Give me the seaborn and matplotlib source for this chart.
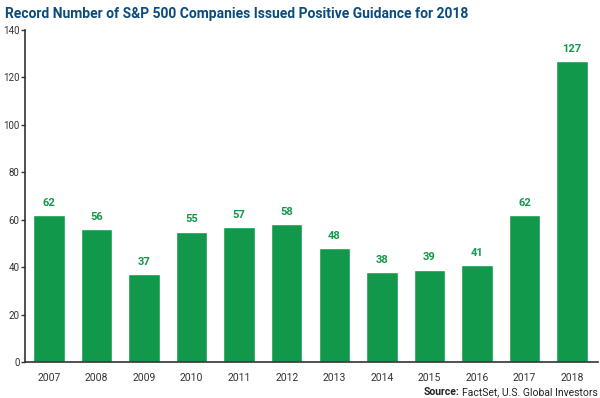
import matplotlib
matplotlib.use('Agg')
import matplotlib.pyplot as plt
import seaborn as sns
import pandas as pd

# data
years = ['2007', '2008', '2009', '2010', '2011', '2012',
         '2013', '2014', '2015', '2016', '2017', '2018']
companies = [62, 56, 37, 55, 57, 58, 48, 38, 39, 41, 62, 127]

df = pd.DataFrame({'year': years, 'companies': companies})

sns.set_style('white')
plt.rcParams['font.family'] = ['Roboto', 'DejaVu Sans']

green = '#12984a'
fig = plt.figure(figsize=(6, 3.98), dpi=100)
ax = fig.add_axes([0.042, 0.0905, 0.955, 0.834])

sns.barplot(data=df, x='year', y='companies', color=green, width=0.66,
            saturation=1, ax=ax)

for i, v in enumerate(companies):
    ax.text(i, v + 3, str(v), ha='center', va='bottom', fontsize=8,
            fontweight='bold', color=green)

ax.set_ylim(0, 140)
ax.set_xlim(-0.5, 11.55)
ax.set_yticks(range(0, 141, 20))
ax.set_xlabel('')
ax.set_ylabel('')
ax.tick_params(axis='y', labelsize=7, length=3, width=1, colors='#333333',
               left=True, pad=1)
ax.tick_params(axis='x', labelsize=7.5, length=0, colors='#333333', pad=8)
for s in ['top', 'right']:
    ax.spines[s].set_visible(False)
for s in ['left', 'bottom']:
    ax.spines[s].set_color('#333333')
    ax.spines[s].set_linewidth(1.2)

fig.text(0.008, 0.965, 'Record Number of S&P 500 Companies Issued Positive Guidance for 2018',
         ha='left', va='center', fontsize=10, fontweight='bold', color='#0b4a7c')

# source line: plain part right aligned, bold "Source:" placed just before it
src = fig.text(0.996, 0.003, 'FactSet, U.S. Global Investors', ha='right', va='bottom',
               fontsize=7.5, color='#222222')
fig.canvas.draw()
bb = src.get_window_extent().transformed(fig.transFigure.inverted())
fig.text(bb.x0 - 0.004, 0.003, 'Source:', ha='right', va='bottom',
         fontsize=7.5, fontweight='bold', color='#222222')

fig.savefig('out.png', dpi=100)
